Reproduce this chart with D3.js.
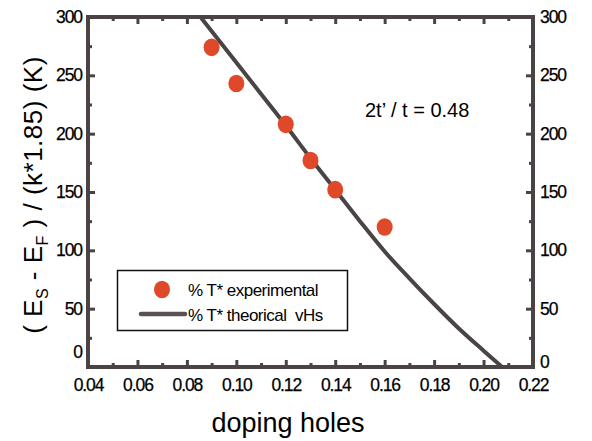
<!DOCTYPE html>
<html><head><meta charset="utf-8">
<script src="https://cdn.jsdelivr.net/npm/d3@7"></script>
<style>
html,body{margin:0;padding:0;background:#fff;}
svg{display:block;font-family:"Liberation Sans",Arial,Helvetica,sans-serif;}
</style></head>
<body>
<svg id="chart" width="592" height="441"></svg>
<script>
// ---- data ----
const expDoping = [0.09, 0.10, 0.12, 0.13, 0.14, 0.16];
const expT = [274, 243, 208, 177, 152, 120];
const theoDoping = [0.0855, 0.10, 0.11, 0.12, 0.13, 0.14, 0.15, 0.16, 0.17, 0.18, 0.19, 0.20, 0.2075];
const theoT = [300, 261, 234, 207, 179, 152, 125, 99, 76, 54, 33, 14, 0];
const xTicks = [0.04, 0.06, 0.08, 0.10, 0.12, 0.14, 0.16, 0.18, 0.20, 0.22];
const xMinor = [0.05, 0.07, 0.09, 0.11, 0.13, 0.15, 0.17, 0.19, 0.21];
const yTicks = [0, 50, 100, 150, 200, 250, 300];
const yMinor = [25, 75, 125, 175, 225, 275];
const legendLabels = ["% T* experimental", "% T* theorical  vHs"];
const annotation = "2t\u2019 / t = 0.48";

// ---- layout ----
const svg = d3.select("#chart");
const L = 88, R = 533, T = 17, B = 367;
const x = d3.scaleLinear().domain([0.04, 0.22]).range([L, R]);
const y = d3.scaleLinear().domain([0, 300]).range([B, T]);
const frameColor = "#4b4343";
const lineColor = "#4a4444";
const dotColor = "#e0482a";

svg.append("defs").append("clipPath").attr("id", "clip")
  .append("rect").attr("x", L).attr("y", T).attr("width", R - L).attr("height", B - T);

function styleAxis(g) {
  g.select(".domain").remove();
  g.selectAll(".tick line").attr("stroke", frameColor).attr("stroke-width", 3);
  g.selectAll(".tick text").attr("fill", "#000").attr("font-size", 17.5).attr("letter-spacing", "-1.1px")
    .attr("stroke", "#000").attr("stroke-width", 0.25)
    .attr("font-family", "Liberation Sans, Arial, sans-serif");
}
const fmtX = d3.format(".2f");
// bottom
svg.append("g").attr("transform", `translate(0,${B})`)
  .call(d3.axisBottom(x).tickValues(xTicks).tickSize(-7).tickPadding(11.5).tickFormat(fmtX)).call(styleAxis);
svg.append("g").attr("transform", `translate(0,${B})`)
  .call(d3.axisBottom(x).tickValues(xMinor).tickSize(-4).tickFormat("")).call(styleAxis);
// top
svg.append("g").attr("transform", `translate(0,${T})`)
  .call(d3.axisTop(x).tickValues(xTicks).tickSize(-7).tickFormat("")).call(styleAxis);
svg.append("g").attr("transform", `translate(0,${T})`)
  .call(d3.axisTop(x).tickValues(xMinor).tickSize(-4).tickFormat("")).call(styleAxis);
// left
const gl = svg.append("g").attr("transform", `translate(${L},0)`)
  .call(d3.axisLeft(y).tickValues(yTicks).tickSize(-7).tickPadding(6)).call(styleAxis);
gl.selectAll(".tick").filter(d => d === 0).select("text").attr("dy", "-0.55em");
svg.append("g").attr("transform", `translate(${L},0)`)
  .call(d3.axisLeft(y).tickValues(yMinor).tickSize(-4).tickFormat("")).call(styleAxis);
// right
const gr = svg.append("g").attr("transform", `translate(${R},0)`)
  .call(d3.axisRight(y).tickValues(yTicks).tickSize(-7).tickPadding(7)).call(styleAxis);
gr.selectAll(".tick").filter(d => d === 0).select("text").attr("dy", "0.02em");
svg.append("g").attr("transform", `translate(${R},0)`)
  .call(d3.axisRight(y).tickValues(yMinor).tickSize(-4).tickFormat("")).call(styleAxis);

// frame
svg.append("rect").attr("x", L).attr("y", T).attr("width", R - L).attr("height", B - T)
  .attr("fill", "none").attr("stroke", frameColor).attr("stroke-width", 4);

// theoretical curve
const theo = theoDoping.map((d, i) => [d, theoT[i]]);
svg.append("path").datum(theo).attr("clip-path", "url(#clip)")
  .attr("fill", "none").attr("stroke", lineColor).attr("stroke-width", 4)
  .attr("d", d3.line().x(d => x(d[0])).y(d => y(d[1])).curve(d3.curveMonotoneX));

// experimental points
svg.append("g").selectAll("ellipse").data(expDoping.map((d, i) => [d, expT[i]])).join("ellipse")
  .attr("cx", d => x(d[0])).attr("cy", d => y(d[1])).attr("rx", 8).attr("ry", 8.8)
  .attr("fill", dotColor);

// annotation
svg.append("text").attr("x", 365).attr("y", 117).attr("font-size", 20).attr("fill", "#000").text(annotation);

// legend
const lg = svg.append("g");
lg.append("rect").attr("x", 117.5).attr("y", 270.5).attr("width", 230).attr("height", 60)
  .attr("fill", "#fff").attr("stroke", "#111").attr("stroke-width", 1.5);
lg.append("ellipse").attr("cx", 162).attr("cy", 289.5).attr("rx", 8).attr("ry", 8.8).attr("fill", dotColor);
lg.append("line").attr("x1", 141).attr("x2", 185).attr("y1", 314).attr("y2", 314)
  .attr("stroke", "#5a5252").attr("stroke-width", 4.5).attr("stroke-linecap", "round");
lg.selectAll("text.lab").data(legendLabels).join("text").attr("class", "lab")
  .attr("x", 188).attr("y", (d, i) => 295.5 + i * 25).attr("font-size", 17).attr("letter-spacing", "-0.5px")
  .attr("fill", "#000").attr("xml:space", "preserve").style("white-space", "pre").text(d => d);

// axis titles
svg.append("text").attr("x", 288).attr("y", 432).attr("text-anchor", "middle")
  .attr("font-size", 27).attr("fill", "#000").text("doping holes");

const yt = svg.append("text").attr("transform", "translate(42,195) rotate(-90)")
  .attr("text-anchor", "middle").attr("font-size", 26).attr("fill", "#000").attr("letter-spacing", "0.5px")
  .style("white-space", "pre");
yt.append("tspan").text("( E");
yt.append("tspan").attr("font-size", 16).attr("dy", 6).text("S");
yt.append("tspan").attr("dy", -6).text(" - E");
yt.append("tspan").attr("font-size", 16).attr("dy", 6).text("F");
yt.append("tspan").attr("dy", -6).text(" ) / (k*1.85) (K)");
</script>
</body></html>
